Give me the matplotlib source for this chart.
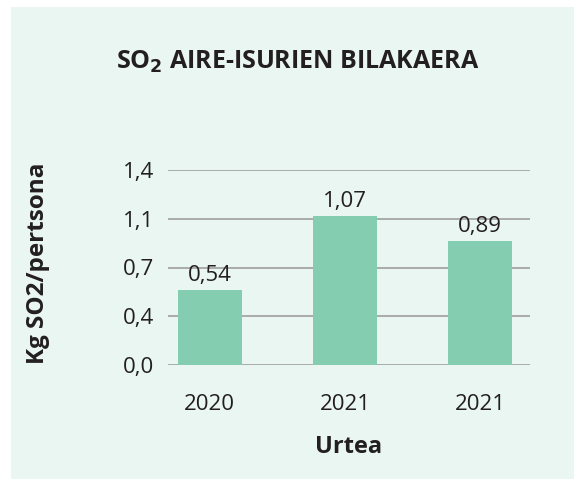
import matplotlib.pyplot as plt
from matplotlib.patches import Rectangle

# data
years = ['2020', '2021', '2021']
values = [0.54, 1.07, 0.89]
value_labels = ['0,54', '1,07', '0,89']
yticks = [0.0, 0.35, 0.7, 1.05, 1.4]
ytick_labels = ['0,0', '0,4', '0,7', '1,1', '1,4']

BG = '#e9f6f1'
BAR = '#84cdb0'
TXT = '#231f20'

plt.rcParams['font.family'] = ['Open Sans', 'DejaVu Sans']

fig = plt.figure(figsize=(5.74, 4.79), dpi=100, facecolor='white')
fig.patches.append(Rectangle((11/574, 0), 1 - 11/574, 1 - 7/479,
                             transform=fig.transFigure, facecolor=BG,
                             edgecolor='none', zorder=-5))

ax = fig.add_axes([168/574, 1 - 365/479, (530 - 168)/574, (365 - 170)/479])
ax.set_facecolor('none')

x = list(range(len(years)))
ax.bar(x, values, width=0.47, color=BAR, zorder=3)
for xi, v, lab in zip(x, values, value_labels):
    ax.annotate(lab, (xi, v), xytext=(0, 3), textcoords='offset points',
                ha='center', va='bottom', fontsize=16, color=TXT, zorder=4)

ax.set_ylim(0, 1.4)
ax.set_xlim(-0.31, 2.37)
ax.set_yticks(yticks)
ax.set_yticklabels(ytick_labels)
ax.set_xticks(x)
ax.set_xticklabels(years)
ax.grid(axis='y', color='#a5a5a5', linewidth=1.3, zorder=1)
ax.set_axisbelow(True)
for s in ax.spines.values():
    s.set_visible(False)
ax.tick_params(axis='both', length=0, labelsize=16, colors=TXT)
ax.tick_params(axis='y', pad=10)
ax.tick_params(axis='x', pad=21)

ax.set_xlabel('Urtea', fontsize=17, fontweight='bold', color=TXT, labelpad=14)
fig.text(38/574, 1 - 263/479, 'Kg SO2/pertsona', rotation=90, ha='center',
         va='center', fontsize=17.5, fontweight='bold', color=TXT)

fig.text(298/574, 1 - 62/479, 'SO$_\\mathbf{2}$ AIRE-ISURIEN BILAKAERA', ha='center',
         va='center', fontsize=18, fontweight='bold', color=TXT)

fig.savefig('out.png', dpi=100, facecolor=fig.get_facecolor())
